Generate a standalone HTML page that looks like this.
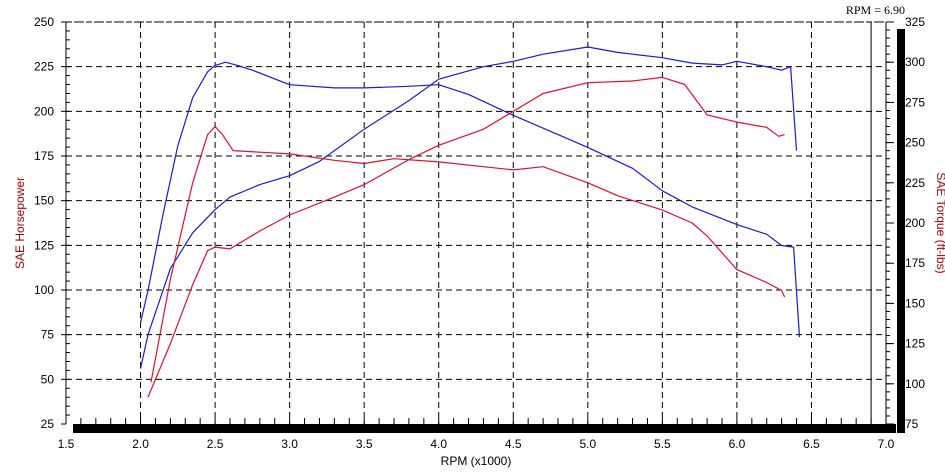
<!DOCTYPE html>
<html><head><meta charset="utf-8"><style>
body{margin:0;background:#fff}
svg{display:block;font-family:"Liberation Sans",sans-serif}
</style></head><body>
<svg id="chart" width="945" height="472">
<g id="grid"></g>
<g id="axes"></g>
<g id="series"></g>
<text x="905" y="14" font-family="Liberation Serif" font-size="12" text-anchor="end">RPM = 6.90</text>
<text x="476" y="465" font-size="12" text-anchor="middle">RPM (x1000)</text>
<text transform="translate(24,223) rotate(-90)" font-size="12" text-anchor="middle" fill="#b00000">SAE Horsepower</text>
<text transform="translate(937,223) rotate(90)" font-size="12" text-anchor="middle" fill="#b00000">SAE Torque (ft-lbs)</text>
</svg>
<script>
const xTicks=[1.5,2.0,2.5,3.0,3.5,4.0,4.5,5.0,5.5,6.0,6.5,7.0];
const hpTicks=[25,50,75,100,125,150,175,200,225,250];
const tqTicks=[75,100,125,150,175,200,225,250,275,300,325];
const rpmBlueHp=[2.0,2.05,2.2,2.35,2.5,2.6,2.8,3.0,3.2,3.5,3.8,4.0,4.3,4.5,4.7,5.0,5.2,5.5,5.7,5.9,6.0,6.2,6.3,6.36,6.4];
const blueHp=[56,75,112,132,145,152,159,164,172,190,206,218,225,228,232,236,233,230,227,226,228,225,223,225,178];
const rpmBlueTq=[2.0,2.05,2.15,2.25,2.35,2.45,2.5,2.57,2.65,2.75,3.0,3.3,3.5,3.8,4.0,4.2,4.5,4.8,5.0,5.3,5.5,5.7,6.0,6.2,6.3,6.38,6.42];
const blueTq=[138,158,205,248,278,294,298,300,298,295,286,284,284,285,286,280,267,255,247,234,220,210,199,193,186,185,129];
const rpmRedHp=[2.05,2.2,2.35,2.45,2.5,2.6,2.8,3.0,3.3,3.5,3.8,4.0,4.3,4.5,4.7,5.0,5.3,5.5,5.65,5.8,6.0,6.2,6.28,6.32];
const redHp=[40,70,103,122,124,123,133,142,152,159,173,181,190,200,210,216,217,219,215,198,194,191,186,187];
const rpmRedTq=[2.07,2.2,2.35,2.45,2.5,2.55,2.62,2.8,3.0,3.3,3.5,3.7,4.0,4.3,4.5,4.7,5.0,5.2,5.5,5.7,5.8,6.0,6.2,6.3,6.32];
const redTq=[101,165,225,255,260,255,245,244,243,239,237,240,238,235,233,235,225,217,208,200,192,171,163,158,154];

const NS="http://www.w3.org/2000/svg";
const X0=66,X1=886,Y0=22,Y1=424;
const xs=v=>X0+(v-1.5)/5.5*(X1-X0);
const yHp=v=>Y1-(v-25)/225*(Y1-Y0);
const yTq=v=>Y1-(v-75)/250*(Y1-Y0);
function mk(tag,attrs,parent){const e=document.createElementNS(NS,tag);for(const k in attrs)e.setAttribute(k,attrs[k]);parent.appendChild(e);return e;}
const grid=document.getElementById('grid'),axes=document.getElementById('axes'),ser=document.getElementById('series');
xTicks.forEach(t=>{
  if(t>1.5&&t<7){const l=mk('line',{x1:xs(t),x2:xs(t),y1:Y0,y2:Y1,stroke:'#000','stroke-dasharray':'6,4','stroke-width':1},grid);
  
  }
  const tx=mk('text',{x:xs(t),y:448,'font-size':12,'text-anchor':'middle'},axes);tx.textContent=t.toFixed(1);
  
  
});
for(let v=1.6;v<7;v+=0.1){mk('line',{x1:xs(v),x2:xs(v),y1:Y1-6,y2:Y1,stroke:'#000'},axes);}
hpTicks.forEach(t=>{
  if(t>25){const l=mk('line',{x1:X0,x2:X1,y1:yHp(t),y2:yHp(t),stroke:'#000','stroke-dasharray':'6,4','stroke-width':1},grid);
  
  }
  const tx=mk('text',{x:54,y:yHp(t)+4,'font-size':12,'text-anchor':'end'},axes);tx.textContent=t;
  
  
  mk('line',{x1:X0-5,x2:X0,y1:yHp(t),y2:yHp(t),stroke:'#000'},axes);
});
for(let v=30;v<250;v+=5){mk('line',{x1:X0,x2:X0+4,y1:yHp(v),y2:yHp(v),stroke:'#000'},axes);}
tqTicks.forEach(t=>{
  const tx=mk('text',{x:905,y:yTq(t)+4,'font-size':12},axes);tx.textContent=t;
  
  
  mk('line',{x1:X1,x2:X1+8,y1:yTq(t),y2:yTq(t),stroke:'#000'},axes);
});
for(let v=80;v<325;v+=5){mk('line',{x1:X1,x2:X1+4,y1:yTq(v),y2:yTq(v),stroke:'#000'},axes);}
mk('line',{x1:X0,x2:X0,y1:Y0,y2:Y1,stroke:'#000'},axes);
mk('line',{x1:X1,x2:X1,y1:Y0,y2:Y1,stroke:'#000'},axes);
mk('line',{x1:X0,x2:X1,y1:Y0,y2:Y0,stroke:'#000','stroke-dasharray':'2,2'},axes);
mk('rect',{x:73,y:424,width:823,height:9,fill:'#000'},axes);
mk('rect',{x:897,y:29,width:8,height:404,fill:'#000'},axes);
const cur=mk('line',{x1:xs(6.9),x2:xs(6.9),y1:Y0,y2:Y1,stroke:'#000'},axes);


function line(rpm,vals,yf,color,name){
  const pts=rpm.map((r,i)=>xs(r).toFixed(1)+','+yf(vals[i]).toFixed(1)).join(' ');
  const p=mk('polyline',{points:pts,fill:'none',stroke:color,'stroke-width':1.2,'stroke-linejoin':'round'},ser);
  
  
}
line(rpmBlueHp,blueHp,yHp,'#1a1ad8','blue-horsepower-line');
line(rpmBlueTq,blueTq,yTq,'#1a1ad8','blue-torque-line');
line(rpmRedHp,redHp,yHp,'#e0102a','red-horsepower-line');
line(rpmRedTq,redTq,yTq,'#e0102a','red-torque-line');
</script>
</body></html>
